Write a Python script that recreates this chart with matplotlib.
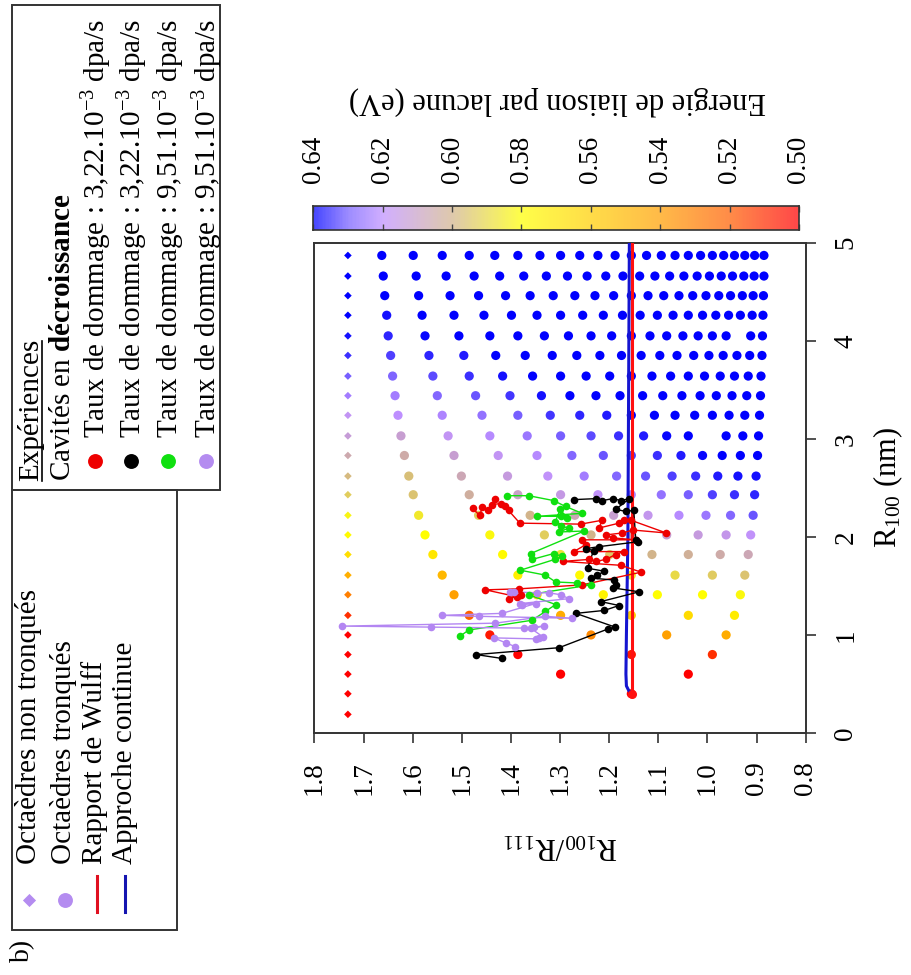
import matplotlib
matplotlib.use("Agg")
import matplotlib.pyplot as plt
from matplotlib.colors import LinearSegmentedColormap, Normalize
from matplotlib.patches import Rectangle
import numpy as np

plt.rcParams['font.family'] = ['Liberation Serif', 'DejaVu Serif']
plt.rcParams['mathtext.fontset'] = 'custom'
plt.rcParams['mathtext.rm'] = 'Liberation Serif'
plt.rcParams['mathtext.it'] = 'Liberation Serif:italic'
plt.rcParams['mathtext.bf'] = 'Liberation Serif:bold'

# ---------------- data ----------------
r100_levels = [0.19, 0.40, 0.60, 0.80, 1.00, 1.20, 1.41, 1.61, 1.82, 2.02, 2.22, 2.43,
               2.62, 2.83, 3.03, 3.24, 3.44, 3.64, 3.85, 4.05, 4.26, 4.46, 4.66, 4.87]

octa_ratio = 1.732
octa_energy = [0.45, 0.46, 0.47, 0.48, 0.495, 0.51, 0.53, 0.546, 0.566, 0.578, 0.583, 0.593,
               0.598, 0.606, 0.613, 0.618, 0.624, 0.630, 0.635, 0.638, 0.641, 0.645, 0.65, 0.65]

trunc_ratio = [
    [],
    [1.155],
    [1.299, 1.039],
    [1.386, 1.155, 0.990],
    [1.443, 1.237, 1.083, 0.962],
    [1.485, 1.299, 1.155, 1.039, 0.945],
    [1.516, 1.347, 1.212, 1.102, 1.010, 0.933],
    [1.540, 1.386, 1.260, 1.155, 1.066, 0.990, 0.924],
    [1.559, 1.417, 1.299, 1.199, 1.113, 1.039, 0.974, 0.917],
    [1.575, 1.443, 1.332, 1.237, 1.155, 1.083, 1.019, 0.962, 0.912],
    [1.588, 1.466, 1.361, 1.270, 1.191, 1.121, 1.058, 1.003, 0.953, 0.907],
    [1.599, 1.485, 1.386, 1.299, 1.223, 1.155, 1.094, 1.039, 0.990, 0.945, 0.904],
    [1.608, 1.501, 1.407, 1.325, 1.251, 1.185, 1.126, 1.072, 1.024, 0.979, 0.938, 0.901],
    [1.617, 1.516, 1.426, 1.347, 1.276, 1.212, 1.155, 1.102, 1.054, 1.010, 0.970, 0.933, 0.898],
    [1.624, 1.528, 1.443, 1.367, 1.299, 1.237, 1.181, 1.130, 1.083, 1.039, 0.962, 0.928, 0.896],
    [1.630, 1.540, 1.459, 1.386, 1.320, 1.260, 1.205, 1.155, 1.108, 1.066, 1.026, 0.990, 0.956,
     0.924, 0.894],
    [1.636, 1.550, 1.472, 1.402, 1.338, 1.280, 1.227, 1.178, 1.132, 1.091, 1.052, 1.015, 0.982,
     0.950, 0.920, 0.892],
    [1.641, 1.559, 1.485, 1.417, 1.356, 1.299, 1.247, 1.199, 1.155, 1.113, 1.075, 1.039, 1.006,
     0.974, 0.945, 0.917, 0.891],
    [1.645, 1.567, 1.496, 1.431, 1.371, 1.316, 1.266, 1.219, 1.175, 1.135, 1.097, 1.062, 1.028,
     0.997, 0.968, 0.940, 0.914, 0.889],
    [1.650, 1.575, 1.506, 1.443, 1.386, 1.332, 1.283, 1.237, 1.195, 1.155, 1.117, 1.083, 1.050,
     1.019, 0.990, 0.962, 0.912, 0.888],
    [1.653, 1.581, 1.516, 1.455, 1.399, 1.347, 1.299, 1.254, 1.212, 1.173, 1.137, 1.102, 1.070,
     1.039, 1.010, 0.983, 0.957, 0.933, 0.909, 0.887],
    [1.657, 1.588, 1.524, 1.466, 1.411, 1.361, 1.314, 1.270, 1.229, 1.191, 1.155, 1.121, 1.089,
     1.058, 1.030, 1.003, 0.977, 0.953, 0.929, 0.907, 0.886],
    [1.660, 1.593, 1.532, 1.475, 1.423, 1.374, 1.328, 1.285, 1.245, 1.207, 1.172, 1.138, 1.107,
     1.077, 1.048, 1.021, 0.996, 0.972, 0.949, 0.926, 0.905, 0.885],
    [1.663, 1.599, 1.540, 1.485, 1.433, 1.386, 1.341, 1.299, 1.260, 1.223, 1.188, 1.155, 1.124,
     1.094, 1.066, 1.039, 1.014, 0.990, 0.967, 0.945, 0.924, 0.904, 0.885],
]

trunc_energy = [
    [],
    [0.48],
    [0.485, 0.49],
    [0.50, 0.505, 0.51],
    [0.505, 0.533, 0.540, 0.545],
    [0.52, 0.545, 0.558, 0.565, 0.572],
    [0.54, 0.56, 0.575, 0.58, 0.58, 0.582],
    [0.55, 0.573, 0.578, 0.585, 0.59, 0.594, 0.596],
    [0.57, 0.578, 0.588, 0.595, 0.60, 0.602, 0.605, 0.607],
    [0.58, 0.582, 0.593, 0.600, 0.606, 0.612, 0.614, 0.616, 0.619],
    [0.586, 0.593, 0.600, 0.607, 0.612, 0.617, 0.621, 0.625, 0.628, 0.631],
    [0.596, 0.603, 0.610, 0.615, 0.619, 0.622, 0.626, 0.630, 0.633, 0.635, 0.636],
    [0.597, 0.607, 0.614, 0.619, 0.624, 0.628, 0.631, 0.633, 0.635, 0.637, 0.638, 0.638],
    [0.605, 0.612, 0.618, 0.621, 0.628, 0.631, 0.633, 0.635, 0.637, 0.639, 0.640, 0.640, 0.640],
    [0.612, 0.618, 0.621, 0.625, 0.630, 0.632, 0.635, 0.637, 0.639, 0.640, 0.645, 0.645, 0.645],
    [0.620, 0.622, 0.626, 0.630, 0.634, 0.636, 0.637, 0.640, 0.645, 0.645, 0.645, 0.645, 0.645,
     0.645, 0.645],
    [0.624, 0.628, 0.631, 0.634, 0.638, 0.640, 0.645, 0.645, 0.645, 0.645, 0.645, 0.645, 0.645,
     0.645, 0.645, 0.645],
    [0.629, 0.632, 0.635, 0.638, 0.640, 0.645, 0.645, 0.645, 0.645, 0.645, 0.645, 0.645, 0.645,
     0.645, 0.645, 0.645, 0.645],
    [0.633, 0.636, 0.637, 0.640, 0.645, 0.645, 0.645, 0.645, 0.645, 0.645, 0.645, 0.645, 0.645,
     0.645, 0.645, 0.645, 0.645, 0.645],
    [0.636, 0.639, 0.645, 0.645, 0.645, 0.645, 0.645, 0.645, 0.645, 0.645, 0.645, 0.645, 0.645,
     0.645, 0.645, 0.645, 0.645, 0.645],
    [0.638, 0.645, 0.645, 0.645, 0.645, 0.645, 0.645, 0.645, 0.645, 0.645, 0.645, 0.645, 0.645,
     0.645, 0.645, 0.645, 0.645, 0.645, 0.645, 0.645],
    [0.640, 0.645, 0.645, 0.645, 0.645, 0.645, 0.645, 0.645, 0.645, 0.645, 0.645, 0.645, 0.645,
     0.645, 0.645, 0.645, 0.645, 0.645, 0.645, 0.645, 0.645],
    [0.645, 0.645, 0.645, 0.645, 0.645, 0.645, 0.645, 0.645, 0.645, 0.645, 0.645, 0.645, 0.645,
     0.645, 0.645, 0.645, 0.645, 0.645, 0.645, 0.645, 0.645, 0.645],
    [0.645, 0.645, 0.645, 0.645, 0.645, 0.645, 0.645, 0.645, 0.645, 0.645, 0.645, 0.645, 0.645,
     0.645, 0.645, 0.645, 0.645, 0.645, 0.645, 0.645, 0.645, 0.645, 0.645],
]

wulff_r100 = [0.40, 5.0]
wulff_ratio = [1.153, 1.153]

cont_r100 = [0.40, 0.43, 0.48, 0.60, 1.00, 2.00, 3.00, 4.00, 5.00]
cont_ratio = [1.153, 1.160, 1.165, 1.166, 1.165, 1.162, 1.161, 1.160, 1.159]

red_r100 = [2.29, 2.22, 2.30, 2.27, 2.39, 2.33, 2.34, 2.31, 2.27, 2.14, 2.13, 2.17, 2.09, 2.14,
            2.17, 2.17, 2.04, 2.07, 2.04, 2.02, 1.99, 1.97, 1.97, 1.92, 1.85, 1.85, 1.82, 1.77,
            1.75, 1.77, 1.75, 1.71, 1.64, 1.51, 1.47, 1.46, 1.39, 1.37, 1.41]
red_ratio = [1.478, 1.464, 1.458, 1.447, 1.432, 1.438, 1.421, 1.412, 1.405, 1.382, 1.258, 1.214,
             1.221, 1.180, 1.170, 1.156, 1.084, 1.152, 1.173, 1.207, 1.193, 1.146, 1.255, 1.248,
             1.272, 1.170, 1.187, 1.207, 1.227, 1.241, 1.295, 1.176, 1.135, 1.256, 1.384, 1.452,
             1.388, 1.405, 1.380]

black_r100 = [2.38, 2.39, 2.37, 2.39, 2.37, 2.39, 2.28, 2.26, 2.27, 1.97, 1.95, 1.90, 1.88, 1.86,
              1.68, 1.65, 1.61, 1.58, 1.56, 1.51, 1.48, 1.44, 1.34, 1.30, 1.25, 1.22, 1.08, 1.06,
              0.87, 0.80, 0.76]
black_ratio = [1.272, 1.227, 1.214, 1.193, 1.176, 1.159, 1.187, 1.166, 1.150, 1.146, 1.142, 1.221,
               1.248, 1.232, 1.244, 1.210, 1.224, 1.238, 1.190, 1.187, 1.193, 1.139, 1.217, 1.180,
               1.210, 1.268, 1.188, 1.203, 1.302, 1.471, 1.418]

green_r100 = [2.42, 2.42, 2.37, 2.31, 2.24, 2.21, 2.21, 2.19, 2.28, 2.15, 2.11, 2.09, 2.05, 2.06,
              1.83, 1.77, 1.83, 1.80, 1.77, 1.66, 1.61, 1.54, 1.53, 1.51, 1.41, 1.31, 1.24, 1.15,
              1.05, 0.99]
green_ratio = [1.408, 1.364, 1.313, 1.289, 1.255, 1.347, 1.299, 1.285, 1.300, 1.310, 1.299, 1.282,
               1.302, 1.251, 1.360, 1.357, 1.313, 1.296, 1.311, 1.381, 1.330, 1.309, 1.265, 1.238,
               1.364, 1.309, 1.330, 1.357, 1.486, 1.503]

purple_r100 = [1.44, 1.44, 1.43, 1.43, 1.41, 1.37, 1.32, 1.31, 1.32, 1.22, 1.20, 1.19, 1.17, 1.19,
               1.12, 1.09, 1.08, 1.07, 1.08, 1.09, 1.07, 0.98, 0.97, 0.96, 0.97, 0.92, 0.88]
purple_ratio = [1.394, 1.401, 1.347, 1.323, 1.299, 1.282, 1.381, 1.377, 1.350, 1.418, 1.541, 1.466,
                1.275, 1.330, 1.432, 1.744, 1.563, 1.374, 1.354, 1.333, 1.360, 1.335, 1.343, 1.350,
                1.435, 1.411, 1.391]

ratio_ticks = [1.8, 1.7, 1.6, 1.5, 1.4, 1.3, 1.2, 1.1, 1.0, 0.9, 0.8]
r100_ticks = [0, 1, 2, 3, 4, 5]
cbar_ticks = [0.64, 0.62, 0.60, 0.58, 0.56, 0.54, 0.52, 0.50]

# ---------------- style ----------------
W, H, DPI = 912, 975, 100
cmap = LinearSegmentedColormap.from_list('energy', [
    (0.0, '#ff0000'), (2/14, '#ff6000'), (4/14, '#ffa000'), (6/14, '#ffd000'),
    (8/14, '#ffff00'), (10/14, '#d2b48c'), (12/14, '#c090ff'), (13/14, '#7860ff'),
    (1.0, '#0000ff')])
norm = Normalize(0.50, 0.64)

RED = '#ee0000'
BLACK = '#000000'
GREEN = '#10e010'
PURPLE = '#b386f2'
LEG_PURPLE = '#b48cf0'
TXT = 19.5
LAB = 22
LEG = 21
EDGE = '#333333'

fig = plt.figure(figsize=(W / DPI, H / DPI), dpi=DPI)

# overlay axes in pixel coordinates
ov = fig.add_axes([0, 0, 1, 1])
ov.set_xlim(0, W)
ov.set_ylim(H, 0)
ov.axis('off')

def fx(x):
    return x / W

def fy(y):
    return 1 - y / H

# ---------------- main axes (rotated view) ----------------
L, R_, T, B = 314.5, 805.7, 242.7, 733.0
ax = fig.add_axes([fx(L), fy(B), (R_ - L) / W, (B - T) / H])
ax.set_xlim(1.8, 0.8)
ax.set_ylim(0, 5)

# octahedra (non truncated)
ax.scatter(np.full(len(r100_levels), octa_ratio), r100_levels, c=octa_energy, cmap=cmap,
           norm=norm, marker='D', s=15, linewidths=0, zorder=2)
# truncated octahedra
tx, ty, te = [], [], []
for lvl, rats, ens in zip(r100_levels, trunc_ratio, trunc_energy):
    for rr, ee in zip(rats, ens):
        tx.append(rr)
        ty.append(lvl)
        te.append(ee)
ax.scatter(tx, ty, c=te, cmap=cmap, norm=norm, marker='o', s=44, linewidths=0, zorder=2)

# Wulff and continuous approach
ax.plot(wulff_ratio, wulff_r100, color='#ff1010', lw=2.2, zorder=3)
ax.plot(cont_ratio, cont_r100, color='#1515d0', lw=2.2, zorder=3)
ax.scatter([wulff_ratio[0]], [wulff_r100[0]], color='#ff1010', s=30, zorder=3)

# experiments
for rr, ll, col in [(red_ratio, red_r100, RED), (black_ratio, black_r100, BLACK),
                    (green_ratio, green_r100, GREEN), (purple_ratio, purple_r100, PURPLE)]:
    ax.plot(rr, ll, '-', color=col, lw=1.0, zorder=4)
    ax.scatter(rr, ll, color=col, s=30, linewidths=0, zorder=5)

for sp in ax.spines.values():
    sp.set_color(EDGE)
    sp.set_linewidth(1.4)

ax.set_xticks(ratio_ticks)
ax.set_xticklabels(['%.1f' % v for v in ratio_ticks])
ax.set_yticks(r100_ticks)
ax.set_yticklabels(['%d' % v for v in r100_ticks])
ax.yaxis.set_ticks_position('right')
ax.tick_params(axis='both', direction='out', length=7, width=1.2, color=EDGE,
               labelsize=TXT, pad=13)
ax.tick_params(axis='x', labelrotation=90)
ax.tick_params(axis='y', labelrotation=90)
ax.tick_params(left=False, top=False)
for lbl in ax.get_yticklabels():
    lbl.set_va('center')
    lbl.set_ha('left')

ov.text(560, 845, r'R$_{100}$/R$_{111}$', rotation=180, ha='center', va='center', fontsize=LAB)
ov.text(888, 488, r'R$_{100}$ (nm)', rotation=90, ha='center', va='center', fontsize=LAB)

# ---------------- colorbar ----------------
cL, cR, cT, cB = 313.3, 799.0, 205.7, 230.0
cax = fig.add_axes([fx(cL), fy(cB), (cR - cL) / W, (cB - cT) / H])
grad = np.linspace(0.64, 0.50, 400).reshape(1, -1)
cax.imshow(grad, cmap=cmap, norm=norm, aspect='auto', extent=[0.64, 0.50, 0, 1], alpha=0.72)
cax.set_xlim(0.64, 0.50)
cax.set_ylim(0, 1)
cax.set_yticks([])
cax.set_xticks(cbar_ticks)
cax.tick_params(axis='x', direction='in', top=True, bottom=True, length=4, width=1.0,
                color='#444444', labelbottom=False, labeltop=False)
for sp in cax.spines.values():
    sp.set_color(EDGE)
    sp.set_linewidth(1.2)
for v in cbar_ticks:
    xp = cL + (0.64 - v) / 0.14 * (cR - cL)
    ov.text(xp, 159, '%.2f' % v, rotation=90, ha='center', va='center', fontsize=TXT)
ov.text(557, 101, 'Energie de liaison par lacune (eV)', rotation=180, ha='center',
        va='center', fontsize=LAB)

# ---------------- legends ----------------
ov.add_patch(Rectangle((11.7, 5), 208.3, 485, fill=False, lw=1.4, ec=EDGE))
ov.add_patch(Rectangle((11.7, 490), 165, 440, fill=False, lw=1.4, ec=EDGE))

# legend 1 (simulations)
ov.scatter([29], [900], marker='D', s=45, color=LEG_PURPLE, linewidths=0)
ov.scatter([65], [900], marker='o', s=115, color=LEG_PURPLE, linewidths=0)
ov.plot([97, 97], [876, 912], color='#e01020', lw=2.2)
ov.plot([125, 125], [876, 912], color='#1515b0', lw=2.2)
for xc, txt in [(29, 'Octaèdres non tronqués'), (64, 'Octaèdres tronqués'),
                (95, 'Rapport de Wulff'), (125, 'Approche continue')]:
    ov.text(xc, 864, txt, rotation=90, ha='center', va='bottom', fontsize=LEG)

# legend 2 (experiments)
t_exp = ov.text(31, 481, 'Expériences', rotation=90, ha='center', va='bottom', fontsize=LEG)
ov.text(63, 481, r'Cavités en $\mathbf{décroissance}$', rotation=90, ha='center',
        va='bottom', fontsize=LEG)
fig.canvas.draw()
bb = t_exp.get_window_extent()
y_top = H - bb.y1
ov.plot([42.5, 42.5], [481, y_top + 2], color='black', lw=1.2)

leg_items = [(95, RED, r'Taux de dommage : 3,22.10$^{-3}$ dpa/s'),
             (131, BLACK, r'Taux de dommage : 3,22.10$^{-3}$ dpa/s'),
             (168, GREEN, r'Taux de dommage : 9,51.10$^{-3}$ dpa/s'),
             (206, LEG_PURPLE, r'Taux de dommage : 9,51.10$^{-3}$ dpa/s')]
for xc, col, txt in leg_items:
    ov.scatter([xc], [461], marker='o', s=115, color=col, linewidths=0)
    ov.text(xc + 2, 438, txt, rotation=90, ha='center', va='bottom', fontsize=LEG)

ov.text(23, 950, 'b)', rotation=90, ha='center', va='center', fontsize=20)

fig.savefig('out.png', dpi=DPI)
